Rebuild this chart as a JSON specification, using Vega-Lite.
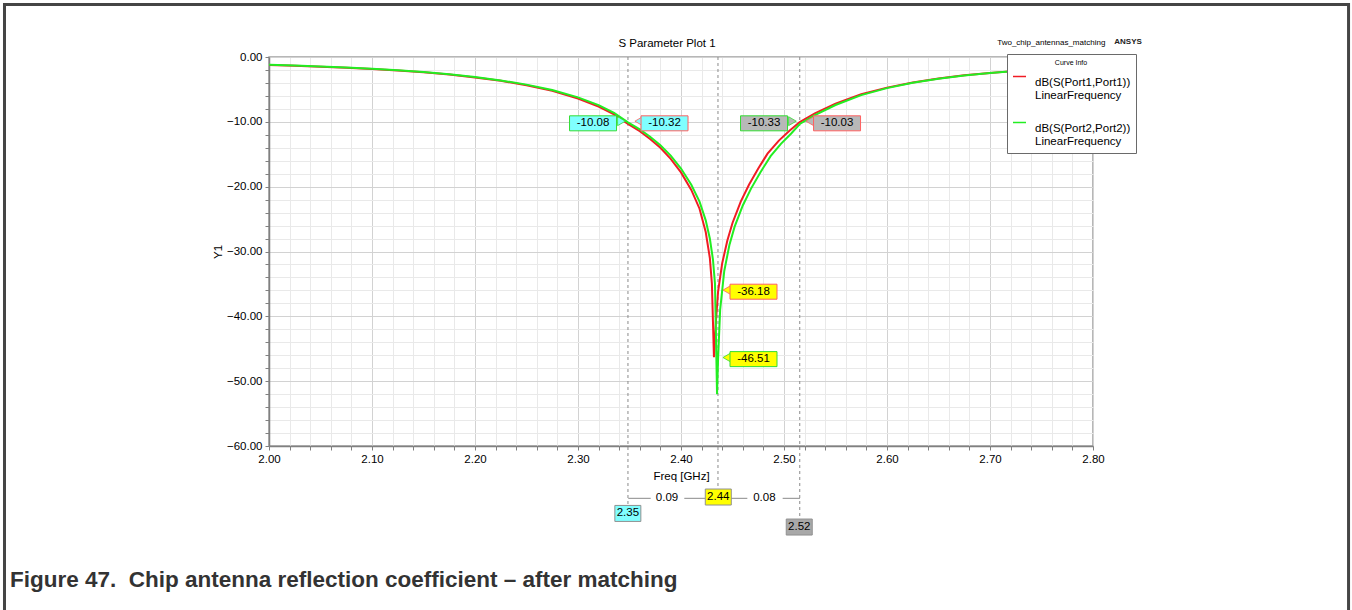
{
  "$schema": "https://vega.github.io/schema/vega-lite/v6.json",
  "width": 824,
  "height": 389,
  "autosize": {"type": "none"},
  "padding": {"left": 269, "top": 57, "right": 259, "bottom": 164},
  "background": "white",
  "config": {
    "view": {"stroke": "#a0a0a0", "strokeWidth": 1.5},
    "font": "Liberation Sans",
    "text": {"font": "Liberation Sans"}
  },
  "datasets": {
    "curves": [
      {"f": 2.000, "db": -1.22, "s": "dB(S(Port1,Port1))"},
      {"f": 2.025, "db": -1.34, "s": "dB(S(Port1,Port1))"},
      {"f": 2.050, "db": -1.49, "s": "dB(S(Port1,Port1))"},
      {"f": 2.075, "db": -1.66, "s": "dB(S(Port1,Port1))"},
      {"f": 2.100, "db": -1.86, "s": "dB(S(Port1,Port1))"},
      {"f": 2.125, "db": -2.09, "s": "dB(S(Port1,Port1))"},
      {"f": 2.150, "db": -2.37, "s": "dB(S(Port1,Port1))"},
      {"f": 2.175, "db": -2.71, "s": "dB(S(Port1,Port1))"},
      {"f": 2.200, "db": -3.15, "s": "dB(S(Port1,Port1))"},
      {"f": 2.225, "db": -3.68, "s": "dB(S(Port1,Port1))"},
      {"f": 2.250, "db": -4.35, "s": "dB(S(Port1,Port1))"},
      {"f": 2.275, "db": -5.2, "s": "dB(S(Port1,Port1))"},
      {"f": 2.300, "db": -6.4, "s": "dB(S(Port1,Port1))"},
      {"f": 2.320, "db": -7.65, "s": "dB(S(Port1,Port1))"},
      {"f": 2.335, "db": -8.85, "s": "dB(S(Port1,Port1))"},
      {"f": 2.3485, "db": -10.32, "s": "dB(S(Port1,Port1))"},
      {"f": 2.360, "db": -11.45, "s": "dB(S(Port1,Port1))"},
      {"f": 2.370, "db": -12.65, "s": "dB(S(Port1,Port1))"},
      {"f": 2.380, "db": -14.0, "s": "dB(S(Port1,Port1))"},
      {"f": 2.390, "db": -15.7, "s": "dB(S(Port1,Port1))"},
      {"f": 2.400, "db": -17.8, "s": "dB(S(Port1,Port1))"},
      {"f": 2.410, "db": -20.5, "s": "dB(S(Port1,Port1))"},
      {"f": 2.418, "db": -23.4, "s": "dB(S(Port1,Port1))"},
      {"f": 2.424, "db": -27.0, "s": "dB(S(Port1,Port1))"},
      {"f": 2.428, "db": -31.0, "s": "dB(S(Port1,Port1))"},
      {"f": 2.430, "db": -35.0, "s": "dB(S(Port1,Port1))"},
      {"f": 2.432, "db": -46.3, "s": "dB(S(Port1,Port1))"},
      {"f": 2.434, "db": -40.5, "s": "dB(S(Port1,Port1))"},
      {"f": 2.436, "db": -36.18, "s": "dB(S(Port1,Port1))"},
      {"f": 2.440, "db": -31.8, "s": "dB(S(Port1,Port1))"},
      {"f": 2.445, "db": -28.3, "s": "dB(S(Port1,Port1))"},
      {"f": 2.450, "db": -25.6, "s": "dB(S(Port1,Port1))"},
      {"f": 2.458, "db": -22.3, "s": "dB(S(Port1,Port1))"},
      {"f": 2.466, "db": -19.7, "s": "dB(S(Port1,Port1))"},
      {"f": 2.475, "db": -17.2, "s": "dB(S(Port1,Port1))"},
      {"f": 2.484, "db": -14.9, "s": "dB(S(Port1,Port1))"},
      {"f": 2.495, "db": -12.9, "s": "dB(S(Port1,Port1))"},
      {"f": 2.505, "db": -11.4, "s": "dB(S(Port1,Port1))"},
      {"f": 2.5153, "db": -10.03, "s": "dB(S(Port1,Port1))"},
      {"f": 2.530, "db": -8.7, "s": "dB(S(Port1,Port1))"},
      {"f": 2.550, "db": -7.2, "s": "dB(S(Port1,Port1))"},
      {"f": 2.575, "db": -5.75, "s": "dB(S(Port1,Port1))"},
      {"f": 2.600, "db": -4.72, "s": "dB(S(Port1,Port1))"},
      {"f": 2.625, "db": -3.93, "s": "dB(S(Port1,Port1))"},
      {"f": 2.650, "db": -3.32, "s": "dB(S(Port1,Port1))"},
      {"f": 2.675, "db": -2.83, "s": "dB(S(Port1,Port1))"},
      {"f": 2.700, "db": -2.45, "s": "dB(S(Port1,Port1))"},
      {"f": 2.725, "db": -2.14, "s": "dB(S(Port1,Port1))"},
      {"f": 2.750, "db": -1.88, "s": "dB(S(Port1,Port1))"},
      {"f": 2.775, "db": -1.67, "s": "dB(S(Port1,Port1))"},
      {"f": 2.800, "db": -1.5, "s": "dB(S(Port1,Port1))"},
      {"f": 2.000, "db": -1.2, "s": "dB(S(Port2,Port2))"},
      {"f": 2.025, "db": -1.32, "s": "dB(S(Port2,Port2))"},
      {"f": 2.050, "db": -1.47, "s": "dB(S(Port2,Port2))"},
      {"f": 2.075, "db": -1.63, "s": "dB(S(Port2,Port2))"},
      {"f": 2.100, "db": -1.83, "s": "dB(S(Port2,Port2))"},
      {"f": 2.125, "db": -2.05, "s": "dB(S(Port2,Port2))"},
      {"f": 2.150, "db": -2.32, "s": "dB(S(Port2,Port2))"},
      {"f": 2.175, "db": -2.66, "s": "dB(S(Port2,Port2))"},
      {"f": 2.200, "db": -3.09, "s": "dB(S(Port2,Port2))"},
      {"f": 2.225, "db": -3.61, "s": "dB(S(Port2,Port2))"},
      {"f": 2.250, "db": -4.26, "s": "dB(S(Port2,Port2))"},
      {"f": 2.275, "db": -5.08, "s": "dB(S(Port2,Port2))"},
      {"f": 2.300, "db": -6.22, "s": "dB(S(Port2,Port2))"},
      {"f": 2.320, "db": -7.43, "s": "dB(S(Port2,Port2))"},
      {"f": 2.335, "db": -8.6, "s": "dB(S(Port2,Port2))"},
      {"f": 2.3485, "db": -10.08, "s": "dB(S(Port2,Port2))"},
      {"f": 2.360, "db": -11.15, "s": "dB(S(Port2,Port2))"},
      {"f": 2.370, "db": -12.3, "s": "dB(S(Port2,Port2))"},
      {"f": 2.380, "db": -13.6, "s": "dB(S(Port2,Port2))"},
      {"f": 2.390, "db": -15.2, "s": "dB(S(Port2,Port2))"},
      {"f": 2.400, "db": -17.2, "s": "dB(S(Port2,Port2))"},
      {"f": 2.410, "db": -19.7, "s": "dB(S(Port2,Port2))"},
      {"f": 2.418, "db": -22.3, "s": "dB(S(Port2,Port2))"},
      {"f": 2.424, "db": -25.2, "s": "dB(S(Port2,Port2))"},
      {"f": 2.428, "db": -28.0, "s": "dB(S(Port2,Port2))"},
      {"f": 2.431, "db": -31.2, "s": "dB(S(Port2,Port2))"},
      {"f": 2.433, "db": -35.0, "s": "dB(S(Port2,Port2))"},
      {"f": 2.435, "db": -52.0, "s": "dB(S(Port2,Port2))"},
      {"f": 2.436, "db": -46.51, "s": "dB(S(Port2,Port2))"},
      {"f": 2.438, "db": -39.0, "s": "dB(S(Port2,Port2))"},
      {"f": 2.442, "db": -33.0, "s": "dB(S(Port2,Port2))"},
      {"f": 2.447, "db": -29.0, "s": "dB(S(Port2,Port2))"},
      {"f": 2.452, "db": -26.2, "s": "dB(S(Port2,Port2))"},
      {"f": 2.460, "db": -22.9, "s": "dB(S(Port2,Port2))"},
      {"f": 2.468, "db": -20.3, "s": "dB(S(Port2,Port2))"},
      {"f": 2.477, "db": -17.8, "s": "dB(S(Port2,Port2))"},
      {"f": 2.487, "db": -15.3, "s": "dB(S(Port2,Port2))"},
      {"f": 2.497, "db": -13.4, "s": "dB(S(Port2,Port2))"},
      {"f": 2.507, "db": -11.8, "s": "dB(S(Port2,Port2))"},
      {"f": 2.5153, "db": -10.33, "s": "dB(S(Port2,Port2))"},
      {"f": 2.530, "db": -8.95, "s": "dB(S(Port2,Port2))"},
      {"f": 2.550, "db": -7.4, "s": "dB(S(Port2,Port2))"},
      {"f": 2.575, "db": -5.88, "s": "dB(S(Port2,Port2))"},
      {"f": 2.600, "db": -4.8, "s": "dB(S(Port2,Port2))"},
      {"f": 2.625, "db": -3.98, "s": "dB(S(Port2,Port2))"},
      {"f": 2.650, "db": -3.36, "s": "dB(S(Port2,Port2))"},
      {"f": 2.675, "db": -2.86, "s": "dB(S(Port2,Port2))"},
      {"f": 2.700, "db": -2.47, "s": "dB(S(Port2,Port2))"},
      {"f": 2.725, "db": -2.15, "s": "dB(S(Port2,Port2))"},
      {"f": 2.750, "db": -1.89, "s": "dB(S(Port2,Port2))"},
      {"f": 2.775, "db": -1.68, "s": "dB(S(Port2,Port2))"},
      {"f": 2.800, "db": -1.51, "s": "dB(S(Port2,Port2))"}
    ],
    "markers": [
      {"f": 2.3485, "db": 0, "end": -69.4},
      {"f": 2.4359, "db": 0, "end": -66.6},
      {"f": 2.5153, "db": 0, "end": -71.3}
    ],
    "labels": [
      {"f": 2.3146, "db": -10.23, "t": "-10.08", "box": "lo", "edge": "S22"},
      {"f": 2.3840, "db": -10.23, "t": "-10.32", "box": "lo", "edge": "S11"},
      {"f": 2.4806, "db": -10.23, "t": "-10.33", "box": "hi", "edge": "S22"},
      {"f": 2.5515, "db": -10.23, "t": "-10.03", "box": "hi", "edge": "S11"},
      {"f": 2.4704, "db": -36.2, "t": "-36.18", "box": "mid", "edge": "S11"},
      {"f": 2.4704, "db": -46.6, "t": "-46.51", "box": "mid", "edge": "S22"}
    ],
    "pointers": [
      {"f": 2.3422, "db": -9.9, "dir": "right", "box": "lo", "edge": "S22"},
      {"f": 2.3590, "db": -9.9, "dir": "left", "box": "lo", "edge": "S11"},
      {"f": 2.5082, "db": -9.9, "dir": "right", "box": "hi", "edge": "S22"},
      {"f": 2.5250, "db": -9.9, "dir": "left", "box": "hi", "edge": "S11"},
      {"f": 2.4445, "db": -35.95, "dir": "left", "box": "mid", "edge": "S11"},
      {"f": 2.4445, "db": -46.35, "dir": "left", "box": "mid", "edge": "S22"}
    ],
    "freqs": [
      {"f": 2.3484, "db": -70.4, "t": "2.35", "box": "lo", "edge": "axis"},
      {"f": 2.4362, "db": -67.87, "t": "2.44", "box": "mid", "edge": "axis"},
      {"f": 2.5148, "db": -72.5, "t": "2.52", "box": "hi2", "edge": "axis"}
    ],
    "segs": [
      {"f": 2.3488, "f2": 2.3706, "db": -68.07},
      {"f": 2.4032, "f2": 2.4240, "db": -68.07},
      {"f": 2.4483, "f2": 2.4644, "db": -68.07},
      {"f": 2.4987, "f2": 2.5155, "db": -68.07}
    ],
    "deltas": [
      {"f": 2.3864, "db": -68.07, "t": "0.09"},
      {"f": 2.4809, "db": -68.07, "t": "0.08"}
    ]
  },
  "encoding": {
    "x": {
      "field": "f",
      "type": "quantitative",
      "scale": {"domain": [2.0, 2.8], "nice": false, "zero": false},
      "axis": {
        "title": "Freq [GHz]",
        "values": [2.0, 2.02, 2.04, 2.06, 2.08, 2.1, 2.12, 2.14, 2.16, 2.18, 2.2, 2.22, 2.24, 2.26, 2.28, 2.3, 2.32, 2.34, 2.36, 2.38, 2.4, 2.42, 2.44, 2.46, 2.48, 2.5, 2.52, 2.54, 2.56, 2.58, 2.6, 2.62, 2.64, 2.66, 2.68, 2.7, 2.72, 2.74, 2.76, 2.78, 2.8],
        "labelExpr": "abs(datum.value*10 - round(datum.value*10)) < 0.001 ? format(datum.value, '.2f') : ''",
        "labelOverlap": false,
        "labelFlush": false,
        "labelFont": "Liberation Sans",
        "labelFontSize": 11.5,
        "labelColor": "#000000",
        "labelPadding": 3,
        "tickSize": 4,
        "tickColor": "#808080",
        "domainColor": "#808080",
        "domainWidth": 1.5,
        "gridColor": {"condition": {"test": "abs(datum.value*10 - round(datum.value*10)) < 0.001", "value": "#d2d2d2"}, "value": "#e9e9e9"},
        "gridWidth": 1,
        "titleFont": "Liberation Sans",
        "titleFontSize": 11.5,
        "titleFontWeight": "normal",
        "titleColor": "#000000",
        "titlePadding": 6
      }
    },
    "y": {
      "field": "db",
      "type": "quantitative",
      "scale": {"domain": [-60, 0], "nice": false, "zero": false},
      "axis": {
        "title": "Y1",
        "values": [0, -2, -4, -6, -8, -10, -12, -14, -16, -18, -20, -22, -24, -26, -28, -30, -32, -34, -36, -38, -40, -42, -44, -46, -48, -50, -52, -54, -56, -58, -60],
        "labelExpr": "datum.value % 10 == 0 ? format(datum.value, '.2f') : ''",
        "labelOverlap": false,
        "labelFlush": false,
        "labelFont": "Liberation Sans",
        "labelFontSize": 11.5,
        "labelColor": "#000000",
        "labelPadding": 3,
        "tickSize": 4,
        "tickColor": "#808080",
        "domainColor": "#808080",
        "domainWidth": 1.5,
        "gridColor": {"condition": {"test": "datum.value % 10 == 0", "value": "#d2d2d2"}, "value": "#e9e9e9"},
        "gridWidth": 1,
        "titleFont": "Liberation Sans",
        "titleFontSize": 11.5,
        "titleFontWeight": "normal",
        "titleColor": "#000000",
        "titlePadding": 3
      }
    }
  },
  "layer": [
    {
      "data": {"name": "markers"},
      "mark": {"type": "rule", "strokeDash": [3, 3], "color": "#8a8a8a", "strokeWidth": 1},
      "encoding": {"y2": {"field": "end"}}
    },
    {
      "data": {"name": "curves"},
      "mark": {"type": "line", "strokeWidth": 2},
      "encoding": {
        "color": {
          "field": "s",
          "type": "nominal",
          "scale": {"domain": ["dB(S(Port1,Port1))", "dB(S(Port2,Port2))"], "range": ["#f01c24", "#22ee22"]},
          "legend": {
            "orient": "none",
            "legendX": 738,
            "legendY": -3,
            "title": "Curve Info",
            "titleFont": "Liberation Sans",
            "titleFontSize": 7,
            "titleFontWeight": "normal",
            "titleColor": "#000000",
            "titleAnchor": "middle",
            "titlePadding": 3,
            "labelExpr": "[datum.label, 'LinearFrequency']",
            "labelFont": "Liberation Sans",
            "labelFontSize": 11.5,
            "labelColor": "#000000",
            "labelBaseline": "top",
            "labelLimit": 300,
            "labelOffset": 8,
            "symbolType": "stroke",
            "symbolSize": 169,
            "symbolStrokeWidth": 1.5,
            "rowPadding": 13,
            "padding": 5,
            "fillColor": "#ffffff",
            "strokeColor": "#6a6a6a"
          }
        }
      }
    },
    {
      "data": {"name": "segs"},
      "mark": {"type": "rule", "color": "#8a8a8a", "strokeWidth": 1},
      "encoding": {"x2": {"field": "f2"}}
    },
    {
      "data": {"name": "deltas"},
      "mark": {"type": "text", "fontSize": 11.5, "color": "#000000"},
      "encoding": {"text": {"field": "t"}}
    },
    {
      "data": {"name": "pointers"},
      "mark": {"type": "point", "filled": true, "size": 80, "opacity": 1, "strokeWidth": 0.8},
      "encoding": {
        "shape": {"field": "dir", "type": "nominal", "scale": {"domain": ["left", "right"], "range": ["triangle-left", "triangle-right"]}, "legend": null},
        "fill": {"field": "box", "type": "nominal", "legend": null},
        "stroke": {"field": "edge", "type": "nominal", "legend": null}
      }
    },
    {
      "data": {"name": "labels"},
      "mark": {"type": "rect", "width": 47, "height": 15, "strokeWidth": 1},
      "encoding": {
        "fill": {"field": "box", "type": "nominal", "scale": {"domain": ["lo", "mid", "hi", "hi2"], "range": ["#80ffff", "#ffff00", "#b8b8b8", "#a8a8a8"]}, "legend": null},
        "stroke": {"field": "edge", "type": "nominal", "scale": {"domain": ["S11", "S22", "axis"], "range": ["#ff6060", "#33dd33", "#909090"]}, "legend": null}
      }
    },
    {
      "data": {"name": "labels"},
      "mark": {"type": "text", "fontSize": 11.5, "color": "#000000"},
      "encoding": {"text": {"field": "t"}}
    },
    {
      "data": {"name": "freqs"},
      "mark": {"type": "rect", "width": 26, "height": 16, "strokeWidth": 1},
      "encoding": {
        "fill": {"field": "box", "type": "nominal", "legend": null},
        "stroke": {"field": "edge", "type": "nominal", "legend": null}
      }
    },
    {
      "data": {"name": "freqs"},
      "mark": {"type": "text", "fontSize": 11.5, "color": "#000000"},
      "encoding": {"text": {"field": "t"}}
    },
    {
      "data": {"values": [{"f": 2.3864, "db": 1.96, "t": "S Parameter Plot 1"}]},
      "mark": {"type": "text", "fontSize": 11.5, "color": "#000000", "baseline": "middle"},
      "encoding": {"text": {"field": "t"}}
    },
    {
      "data": {"values": [{"f": 2.7595, "db": 2.11, "t": "Two_chip_antennas_matching"}]},
      "mark": {"type": "text", "fontSize": 8, "color": "#000000", "baseline": "middle"},
      "encoding": {"text": {"field": "t"}}
    },
    {
      "data": {"values": [{"f": 2.834, "db": 2.31, "t": "ANSYS"}]},
      "mark": {"type": "text", "fontSize": 8, "fontWeight": "bold", "color": "#222222", "baseline": "middle"},
      "encoding": {"text": {"field": "t"}}
    },
    {
      "data": {"values": [{"f": 1.7485, "db": -80.67, "t": "Figure 47.\u00a0 Chip antenna reflection coefficient – after matching"}]},
      "mark": {"type": "text", "fontSize": 22.5, "fontWeight": "bold", "color": "#333333", "align": "left", "baseline": "middle"},
      "encoding": {"text": {"field": "t"}}
    },
    {
      "data": {"values": [{"f": 1.7432, "f2": 3.0481, "db": 8.1, "db2": -89.9}]},
      "mark": {"type": "rect", "filled": false, "stroke": "#454545", "strokeWidth": 3},
      "encoding": {"x2": {"field": "f2"}, "y2": {"field": "db2"}}
    }
  ]
}
